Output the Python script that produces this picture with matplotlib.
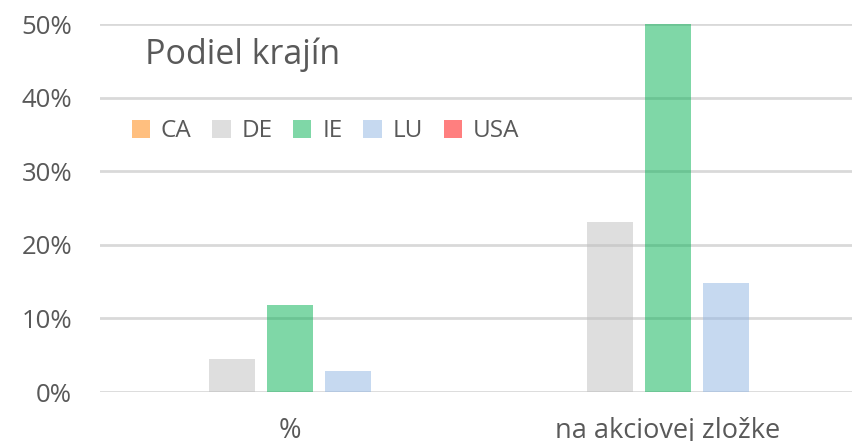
import numpy as np
import matplotlib.pyplot as plt
from matplotlib.patches import Patch

# Data
categories = ['%', 'na akciovej zložke']
series = ['CA', 'DE', 'IE', 'LU', 'USA']
values = {
    'CA': [0.0, 0.0],
    'DE': [4.5, 23.1],
    'IE': [11.8, 50.5],
    'LU': [2.85, 14.8],
    'USA': [0.0, 0.0],
}
colors = ['#FF8000', '#BFBFBF', '#00B050', '#8EB4E3', '#FF0000']

plt.rcParams['font.family'] = ['Open Sans', 'DejaVu Sans']
text_col = '#595959'
grid_col = '#D9D9D9'

fig = plt.figure(figsize=(8.52, 4.41), dpi=100)
ax = fig.add_axes([100 / 852, 49 / 441, 752 / 852, 368 / 441])

x = np.arange(len(categories))
slot = 0.154
width = 0.122
for i, (name, col) in enumerate(zip(series, colors)):
    ax.bar(x + (i - 2) * slot, values[name], width, color=col, alpha=0.5,
           zorder=3, linewidth=0)

ax.set_xlim(-0.503, 1.487)
ax.set_ylim(0, 50)
ax.set_yticks(range(0, 51, 10))
ax.set_yticklabels([f'{v}%' for v in range(0, 51, 10)])
ax.set_xticks(x)
ax.set_xticklabels(categories)
ax.tick_params(axis='both', length=0, labelsize=18.5, colors=text_col)
ax.tick_params(axis='y', pad=20)
ax.tick_params(axis='x', labelsize=19.5, pad=18)
ax.yaxis.grid(True, color=grid_col, linewidth=2, zorder=0)
ax.set_axisbelow(True)
for s in ax.spines.values():
    s.set_visible(False)

ax.text(45 / 752, 0.916, 'Podiel krajín', transform=ax.transAxes,
        fontsize=24.5, color=text_col, va='center', ha='left')

handles = [Patch(facecolor=c, alpha=0.5, edgecolor='none') for c in colors]
leg = ax.legend(handles, series, loc='center left', ncol=5, frameon=False,
                bbox_to_anchor=(0.026, 0.709), fontsize=17.5,
                handlelength=0.75, handleheight=0.75, handletextpad=0.45,
                columnspacing=0.85, labelcolor=text_col, borderpad=0)

fig.savefig('out.png', dpi=100)
